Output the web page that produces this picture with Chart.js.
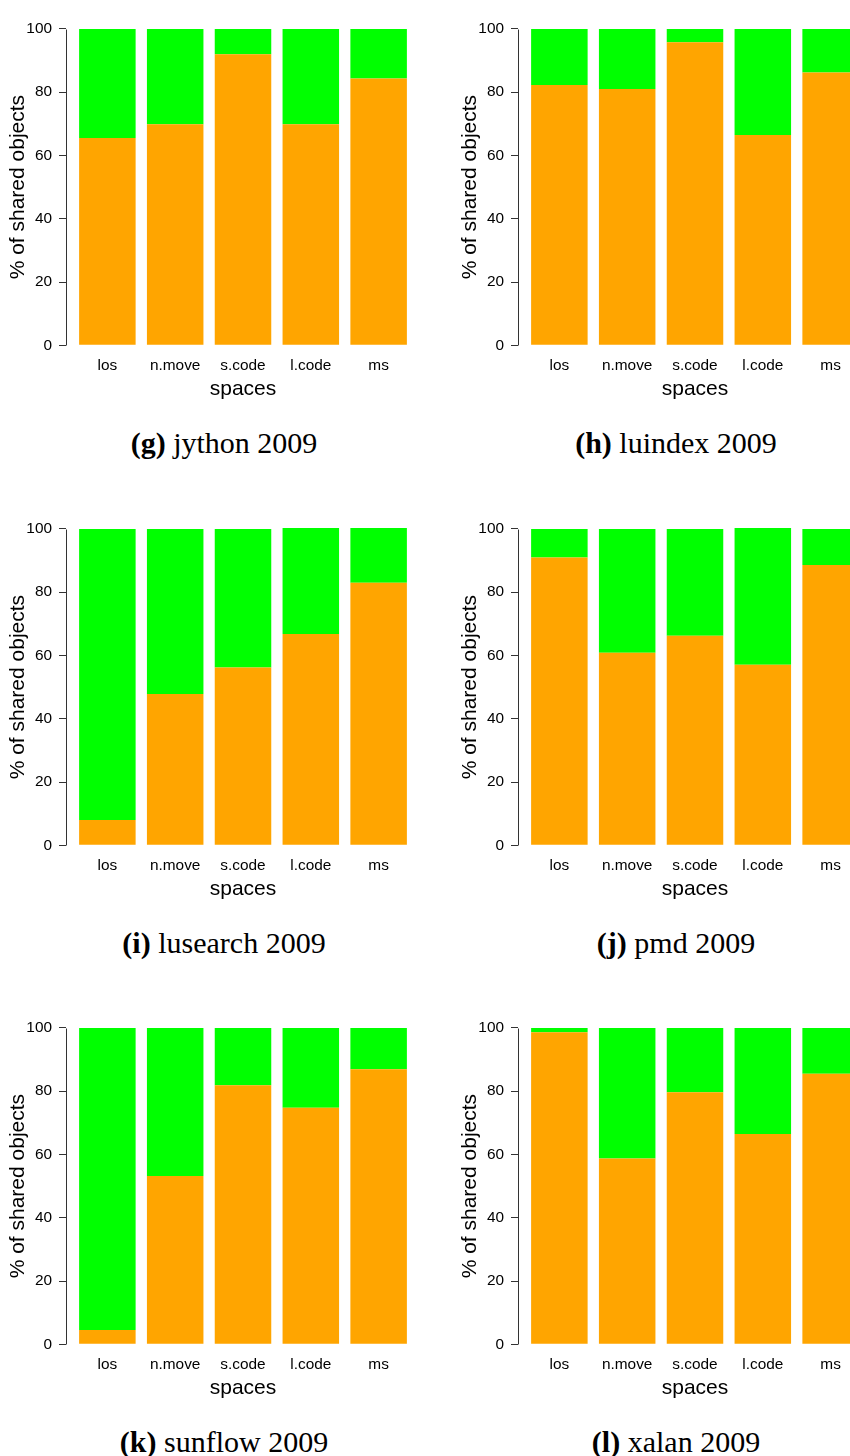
<!DOCTYPE html>
<html>
<head>
<meta charset="utf-8">
<script src="https://cdn.jsdelivr.net/npm/chart.js@4.4.1/dist/chart.umd.min.js"></script>
<style>
  html, body { margin: 0; padding: 0; background: #fff; }
  #page { position: relative; width: 850px; height: 1456px; overflow: hidden; }
  #page canvas { position: absolute; }
  .cap { position: absolute; width: 400px; text-align: center; color: #000;
         font-family: "Liberation Serif", "DejaVu Serif", serif; font-size: 30px; line-height: 30px; }
</style>
</head>
<body>
<div id="page"></div>
<script>
// categories and ticks
var spaces = ['los', 'n.move', 's.code', 'l.code', 'ms'];
var yTicks = [0, 20, 40, 60, 80, 100];

// % of shared objects, orange part (bottom) and green part (top)
var jythonOrange   = [65.5, 69.9, 92.0, 69.9, 84.3];
var jythonGreen    = [34.5, 30.1,  8.0, 30.1, 15.7];
var luindexOrange  = [82.3, 81.0, 95.8, 66.5, 86.2];
var luindexGreen   = [17.7, 19.0,  4.2, 33.5, 13.8];
var lusearchOrange = [ 8.0, 47.8, 56.2, 66.8, 83.0];
var lusearchGreen  = [92.0, 52.2, 43.8, 33.5, 17.3];
var pmdOrange      = [91.0, 60.9, 66.2, 57.1, 88.6];
var pmdGreen       = [ 9.0, 39.1, 33.8, 43.2, 11.4];
var sunflowOrange  = [ 4.5, 53.2, 81.9, 74.8, 86.9];
var sunflowGreen   = [95.5, 46.8, 18.1, 25.2, 13.1];
var xalanOrange    = [98.6, 58.7, 79.7, 66.5, 85.5];
var xalanGreen     = [ 1.4, 41.3, 20.3, 33.5, 14.5];

var panelLetters = ['g', 'h', 'i', 'j', 'k', 'l'];
var panelNames   = ['jython 2009', 'luindex 2009', 'lusearch 2009', 'pmd 2009', 'sunflow 2009', 'xalan 2009'];
var panelOrange  = [jythonOrange, luindexOrange, lusearchOrange, pmdOrange, sunflowOrange, xalanOrange];
var panelGreen   = [jythonGreen, luindexGreen, lusearchGreen, pmdGreen, sunflowGreen, xalanGreen];

var ORANGE = '#FFA500';
var GREEN = '#00FF00';
var AXIS = '#333333';
var SANS = '"Liberation Sans", Arial, Helvetica, sans-serif';

var rowTop = [0, 500, 999];
var colLeft = [0, 452];

// barplot x positions (width 1, space 0.2) like R does it
function barMid(i) { return 0.7 + 1.2 * i; }

// y axis line only from first to last tick, like R's axis()
var yAxisLine = {
    id: 'yAxisLine',
    afterDraw: function (chart) {
        var ys = chart.scales.y, ctx = chart.ctx;
        var x = Math.round(chart.chartArea.left) + 0.5;
        ctx.save();
        ctx.strokeStyle = AXIS;
        ctx.lineWidth = 1;
        ctx.beginPath();
        ctx.moveTo(x, Math.round(ys.getPixelForValue(yTicks[0])) + 0.5);
        ctx.lineTo(x, Math.round(ys.getPixelForValue(yTicks[yTicks.length - 1])) + 0.5);
        ctx.stroke();
        ctx.restore();
    }
};

function makePoints(values) {
    var pts = [];
    for (var i = 0; i < values.length; i++) pts.push({ x: barMid(i), y: values[i] });
    return pts;
}

function CreatePanel(idx) {
    var page = document.getElementById('page');
    var col = idx % 2, row = Math.floor(idx / 2);

    var canvas = document.createElement('canvas');
    canvas.width = 452;
    canvas.height = 420;
    canvas.style.left = colLeft[col] + 'px';
    canvas.style.top = rowTop[row] + 'px';
    page.appendChild(canvas);

    var cap = document.createElement('div');
    cap.className = 'cap';
    cap.style.left = (colLeft[col] + 224 - 200) + 'px';
    cap.style.top = (rowTop[row] + 428) + 'px';
    cap.innerHTML = '<b>(' + panelLetters[idx] + ')</b> ' + panelNames[idx];
    page.appendChild(cap);

    var data = {
        datasets: [
            { data: makePoints(panelOrange[idx]), backgroundColor: ORANGE, borderWidth: 0 },
            { data: makePoints(panelGreen[idx]), backgroundColor: GREEN, borderWidth: 0 }
        ]
    };

    return new Chart(canvas, {
        type: 'bar',
        data: data,
        plugins: [yAxisLine],
        options: {
            responsive: false,
            animation: false,
            devicePixelRatio: 1,
            categoryPercentage: 1,
            barPercentage: 1 / 1.2,
            layout: { padding: { left: 0, top: 7, right: 32, bottom: 18.4 } },
            plugins: { legend: { display: false }, tooltip: { enabled: false } },
            scales: {
                x: {
                    type: 'linear',
                    offset: false,
                    stacked: true,
                    min: -0.032,
                    max: 6.232,
                    afterBuildTicks: function (s) {
                        s.ticks = spaces.map(function (n, i) { return { value: barMid(i) }; });
                    },
                    afterFit: function (s) { s.height = 43.6; },
                    grid: { display: false, drawTicks: false },
                    border: { display: false },
                    ticks: {
                        autoSkip: false, maxRotation: 0, padding: -1, color: '#000',
                        font: { family: SANS, size: 15.4 },
                        callback: function (v, i) { return spaces[i]; }
                    },
                    title: {
                        display: true, text: 'spaces', color: '#000',
                        font: { family: SANS, size: 21 },
                        padding: { top: 0, bottom: 0 }
                    }
                },
                y: {
                    stacked: true,
                    min: -4,
                    max: 104,
                    afterBuildTicks: function (s) {
                        s.ticks = yTicks.map(function (v) { return { value: v }; });
                    },
                    afterFit: function (s) { s.width = 66; },
                    grid: { display: true, drawOnChartArea: false, drawTicks: true, tickLength: 7, color: AXIS, lineWidth: 1 },
                    border: { display: false },
                    ticks: {
                        padding: 7, color: '#000',
                        font: { family: SANS, size: 15.4 }
                    },
                    title: {
                        display: true, text: '% of shared objects', color: '#000',
                        font: { family: SANS, size: 21 },
                        padding: { top: 5.4, bottom: 0 }
                    }
                }
            }
        }
    });
}

for (var p = 0; p < panelNames.length; p++) CreatePanel(p);
</script>
</body>
</html>
